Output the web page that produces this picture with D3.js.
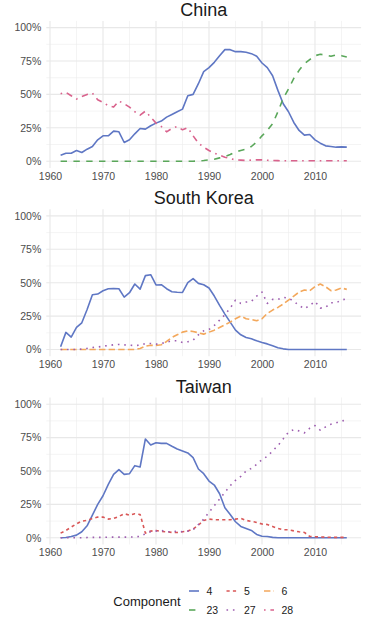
<!DOCTYPE html>
<html>
<head>
<meta charset="utf-8">
<script src="https://cdn.jsdelivr.net/npm/d3@7"></script>
<style>
  html, body { margin: 0; padding: 0; background: #ffffff; }
  svg { display: block; }
  text { font-family: "Liberation Sans", Arial, Helvetica, sans-serif; }
</style>
</head>
<body>
<svg id="chart" width="380" height="627"></svg>
<script>
// ---------------- DATA ----------------
const years = [1962,1963,1964,1965,1966,1967,1968,1969,1970,1971,
  1972,1973,1974,1975,1976,1977,1978,1979,1980,1981,
  1982,1983,1984,1985,1986,1987,1988,1989,1990,1991,
  1992,1993,1994,1995,1996,1997,1998,1999,2000,2001,
  2002,2003,2004,2005,2006,2007,2008,2009,2010,2011,
  2012,2013,2014,2015,2016];

const countries = ["China", "South Korea", "Taiwan"];
const components = ["4", "5", "6", "23", "27", "28"];
const yTicks = [0, 25, 50, 75, 100];
const yMinor = [12.5, 37.5, 62.5, 87.5];
const xTicks = [1960, 1970, 1980, 1990, 2000, 2010];
const xMinor = [1965, 1975, 1985, 1995, 2005, 2015];

const china4 = [4.5,6,6,8,6.5,9,11,16,19,19,
  22.5,22,14,16,20.5,24.5,24,26.5,28.5,30,
  33,35,37,39,49,50,58,67,70,74,
  79,83.5,83.5,82,82,81.5,80.5,78.5,73.5,70,
  64,53,43,37,29,23,19.5,20,16,13.5,
  11.5,11,10.5,10.7,10.5];
const china23 = [0,0,0,0,0,0,0,0,0,0,
  0,0,0,0,0,0,0,0,0,0,
  0,0,0,0,0,0,0.2,0.5,1,1.5,
  2.5,3.5,5,7,8,9,11,14.5,19,23,
  28,37,47,54,62,68,73,76,79,80,
  79.5,78.5,79.5,79,78];
const china28 = [50.5,51.5,49,46.5,48.5,50,51,46,44,41.5,
  40.5,45,43,40.5,37,34.5,37.5,33,28.5,26,
  22,24.5,26,23.5,25,19,13.5,10.5,8,6,
  4.5,3,2,1,0.8,0.5,0.8,1,1,0.7,
  0.5,0.4,0.3,0.3,0.3,0.3,0.3,0.3,0.3,0.3,
  0.3,0.3,0.3,0.3,0.3];

const korea4 = [2,12.8,9.3,16.5,20,30,41,41.5,44,45.5,
  45.7,45.5,39.2,42.5,49,45.2,55.3,56,48.3,48.5,
  45.5,43.2,42.8,42.7,50,53,49.5,48.5,46,40,
  33,26.5,20.5,14.5,11,9,8,6.5,5.3,4.2,
  2.8,1.3,0.5,0,0,0,0,0,0,0,
  0,0,0,0,0];
const korea6 = [0,0,0,0,0,0,0,0,0,0,
  0,0,0,0,0,0.8,2.5,3.2,3,3.5,
  6,9,11,13,14,13.5,12.5,11.5,13,14.5,
  16.5,18.5,20.5,23,25,23,22.5,21.5,23,27,
  29.5,31.5,34,37,40,43,44.5,44,47,49,
  47,44,44.5,46,45];
const korea27 = [0,0,0,0,0.3,0.8,1.5,1.8,2.5,3,
  3.5,3.8,3.5,3.2,3,3.2,4.5,4.5,4,4.5,
  5.5,6.5,6.5,5.3,5.8,7,11,14,15,18,
  22,26,31,37,34.5,35.5,36,40,43,34.5,
  37.5,37.5,39,38.5,36,33,30.5,33,36,31,
  31.5,35,35,37,38];

const taiwan4 = [0,0.2,1,2,4.5,9,17,25,31.5,40,
  47.5,51,47.5,48,54,53,74,69.5,71.2,70.7,
  70.7,68.5,66.5,65,63.5,60,51.5,48,42.5,39.5,
  33,22.5,17.5,12,8.5,7,5.5,2.5,1.2,1,
  0.3,0,0,0,0,0,0,0,0,0,
  0,0,0,0,0];
const taiwan5 = [3.5,5.5,8,10.5,12.5,13,14.5,15.5,15.5,14,
  14.5,16,18,17,18,17.5,3.5,5,5.5,4.7,
  4.5,4,4,4.5,5,6.5,9.5,13,14,13.5,
  13.5,13.5,13.5,14,14.5,13,12.3,11.5,10.3,10,
  8.5,7,6,6,5.2,4.5,4,1,0.8,0.6,
  0.5,0.4,0.3,0.3,0.3];
const taiwan27 = [0,0,0,0,0,0.2,0.3,0.3,0.3,0.5,
  0.5,0.5,0.5,0.5,0.7,1,3,4.5,5,5.5,
  4.5,4.5,5,4.5,5,6,10,14,19,24,
  29,34,39,43,46,50,52,55,58.5,61,
  65,69,74,79,81,80,78.5,82,84,80.5,
  83,85,86,87.5,88];

// series per panel (component, values)
const panelSeries = [
  [["4", china4], ["23", china23], ["28", china28]],
  [["4", korea4], ["6", korea6], ["27", korea27]],
  [["4", taiwan4], ["5", taiwan5], ["27", taiwan27]]
];

// ---------------- STYLE ----------------
const colors = {"4": "#5f77c4", "5": "#d95757", "6": "#f3a85c", "23": "#5aa75a", "27": "#9e5fb0", "28": "#d9638d"};
const LW = 1.6;
const dashes = {"4": null, "5": [2,2], "6": [4,2], "23": [4,4], "27": [1,3], "28": [1,3,4,3]};
const dashStr = c => dashes[c] ? dashes[c].map(v => v * LW).join(",") : null;

const svg = d3.select("#chart");

const x = d3.scaleLinear().domain([1959.3, 2018.7]).range([46.3, 361.1]);
const panelZero = [161.2, 349.5, 537.8];
const unit = 133.6 / 100;

panelSeries.forEach((series, i) => {
  const y = d3.scaleLinear().domain([-5, 105])
    .range([panelZero[i] + 5 * unit, panelZero[i] - 105 * unit]);
  const g = svg.append("g");
  const [x0, x1] = x.range();
  const [yb, yt] = y.range();

  // minor grid
  g.selectAll(".hmin").data(yMinor).join("line")
    .attr("x1", x0).attr("x2", x1).attr("y1", d => y(d)).attr("y2", d => y(d))
    .attr("stroke", "#ededed").attr("stroke-width", 0.6);
  g.selectAll(".vmin").data(xMinor).join("line")
    .attr("y1", yb).attr("y2", yt).attr("x1", d => x(d)).attr("x2", d => x(d))
    .attr("stroke", "#ededed").attr("stroke-width", 0.6);
  // major grid
  g.selectAll(".hmaj").data(yTicks).join("line")
    .attr("x1", x0).attr("x2", x1).attr("y1", d => y(d)).attr("y2", d => y(d))
    .attr("stroke", "#e8e8e8").attr("stroke-width", 1.1);
  g.selectAll(".vmaj").data(xTicks).join("line")
    .attr("y1", yb).attr("y2", yt).attr("x1", d => x(d)).attr("x2", d => x(d))
    .attr("stroke", "#e8e8e8").attr("stroke-width", 1.1);

  // axes
  const ya = g.append("g").attr("transform", `translate(${x0},0)`)
    .call(d3.axisLeft(y).tickValues(yTicks).tickFormat(d => d + "%").tickSize(0).tickPadding(5));
  ya.select(".domain").remove();
  ya.selectAll("text").attr("font-size", 10.5).attr("fill", "#4d4d4d")
    .attr("font-family", '"Liberation Sans", Arial, sans-serif');

  const xa = g.append("g").attr("transform", `translate(0,${yb})`)
    .call(d3.axisBottom(x).tickValues(xTicks).tickFormat(d3.format("d")).tickSize(0).tickPadding(4.5));
  xa.select(".domain").remove();
  xa.selectAll("text").attr("font-size", 10.5).attr("fill", "#4d4d4d")
    .attr("font-family", '"Liberation Sans", Arial, sans-serif');

  // title
  g.append("text").attr("x", (x0 + x1) / 2).attr("y", yt - 5)
    .attr("text-anchor", "middle").attr("font-size", 18).attr("fill", "#1a1a1a")
    .text(countries[i]);

  // lines
  const line = d3.line().x((d, k) => x(years[k])).y(d => y(d));
  series.forEach(([comp, vals]) => {
    g.append("path").datum(vals).attr("d", line)
      .attr("fill", "none").attr("stroke", colors[comp])
      .attr("stroke-width", LW).attr("stroke-linejoin", "round").attr("stroke-linecap", "butt")
      .attr("stroke-dasharray", dashStr(comp));
  });
});

// ---------------- LEGEND ----------------
const lg = svg.append("g");
lg.append("text").attr("x", 113.3).attr("y", 605.5).attr("font-size", 13).attr("fill", "#1a1a1a")
  .text("Component");
components.forEach((c, k) => {
  const col = k % 3, row = Math.floor(k / 3);
  const kx = 189 + col * 37.5;
  const ky = 591 + row * 19;
  lg.append("line").attr("x1", kx).attr("x2", kx + 10).attr("y1", ky).attr("y2", ky)
    .attr("stroke", colors[c]).attr("stroke-width", LW).attr("stroke-dasharray", dashStr(c));
  lg.append("text").attr("x", kx + 17.5).attr("y", ky + 3.8).attr("font-size", 10.5)
    .attr("fill", "#1a1a1a").text(c);
});
</script>
</body>
</html>
